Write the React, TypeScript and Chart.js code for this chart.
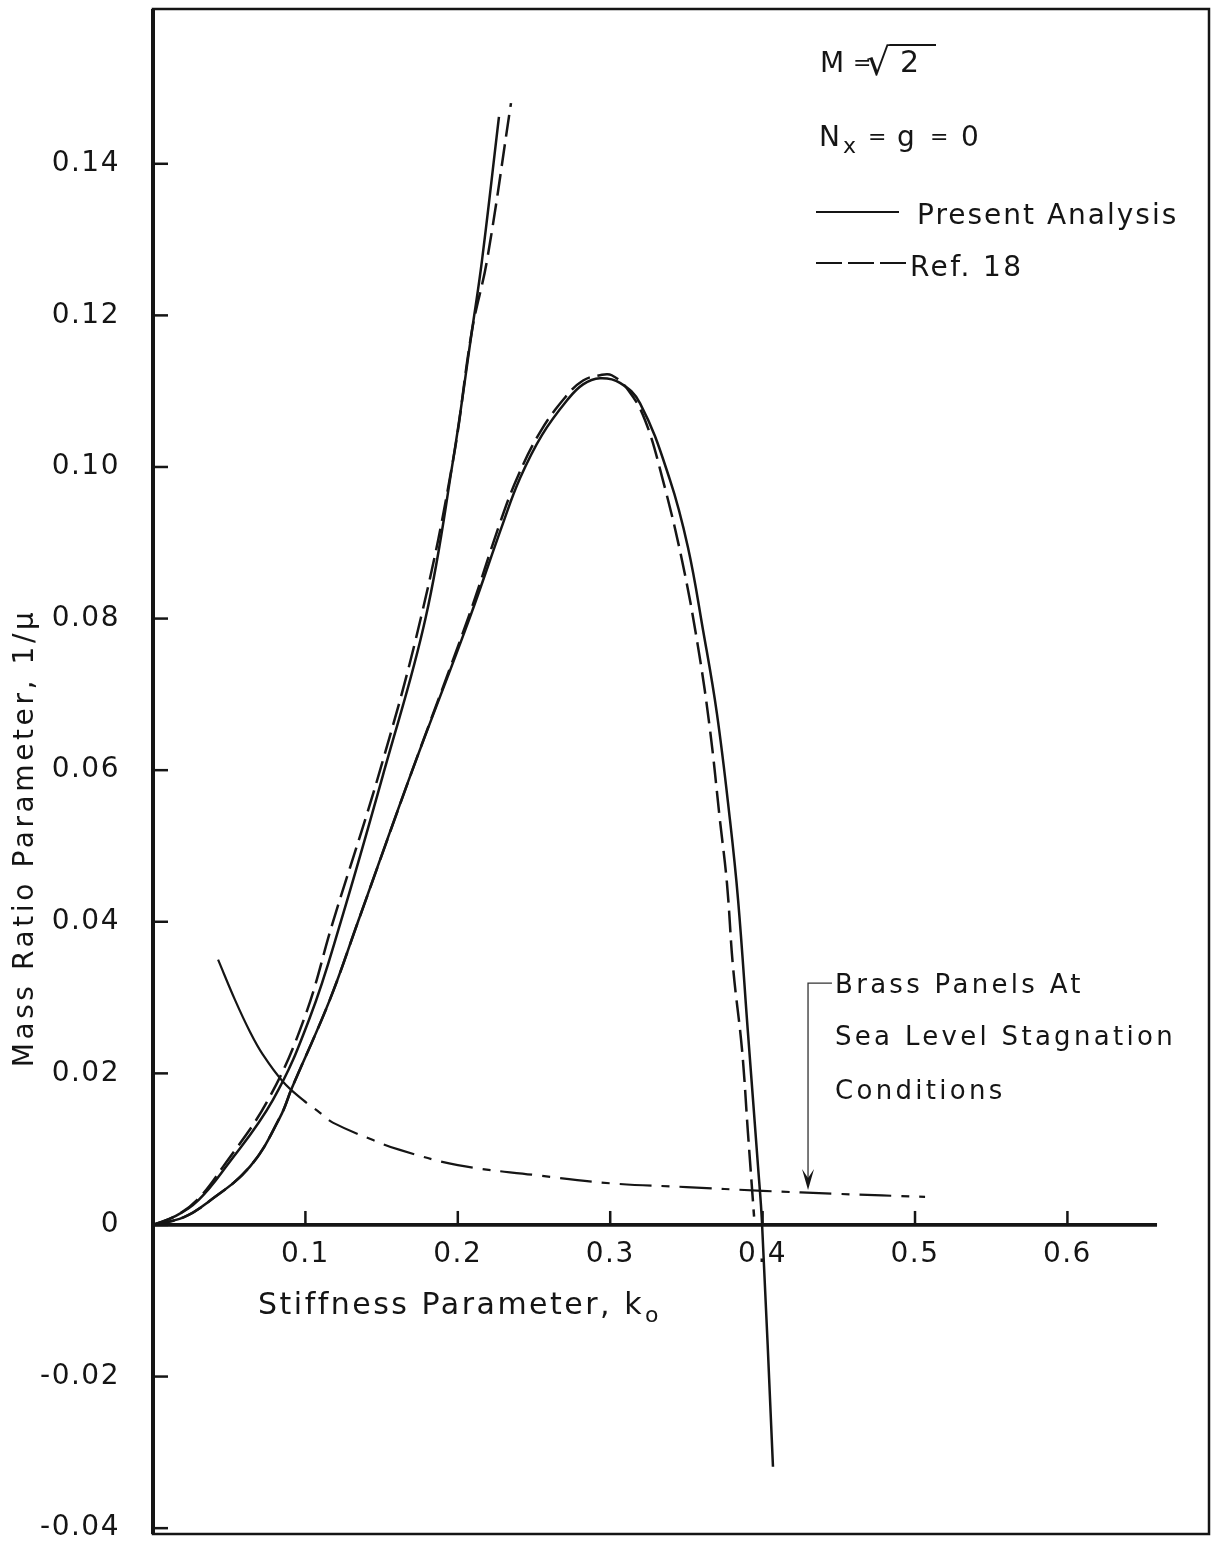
import React, { useEffect, useRef } from "react";
import { Chart, registerables } from "chart.js";

Chart.register(...registerables);

const FONT = "'DejaVu Sans', 'Liberation Sans', sans-serif";
const INK = "#151515";

// Axis ticks
const xTicks = [0.1, 0.2, 0.3, 0.4, 0.5, 0.6];
const xTickLabels = ["0.1", "0.2", "0.3", "0.4", "0.5", "0.6"];
const yTicks = [-0.04, -0.02, 0, 0.02, 0.04, 0.06, 0.08, 0.1, 0.12, 0.14];
const yTickLabels = ["-0.04", "-0.02", "0", "0.02", "0.04", "0.06", "0.08", "0.10", "0.12", "0.14"];
const xMin = 0;
const xMax = 0.6929;
const yMin = -0.04077;
const yMax = 0.16042;
const axisLineEnd = 0.6588;

// Present Analysis — upper (steep) branch
const presentUpperK = [0, 0.015, 0.03, 0.048, 0.0787, 0.103, 0.1232, 0.1518, 0.179, 0.1969, 0.2093, 0.2159, 0.227];
const presentUpperMu = [0, 0.0012, 0.0033, 0.0077, 0.0165, 0.0274, 0.04, 0.06, 0.0802, 0.1009, 0.118, 0.1273, 0.1462];

// Ref. 18 — upper (steep) branch
const ref18UpperK = [0, 0.015, 0.029, 0.046, 0.0755, 0.0995, 0.1181, 0.149, 0.1759, 0.1969, 0.2093, 0.2192, 0.2349];
const ref18UpperMu = [0, 0.0012, 0.0033, 0.0077, 0.0165, 0.0274, 0.04, 0.06, 0.0802, 0.1009, 0.118, 0.1273, 0.148];

// Present Analysis — lower loop
const presentLoopK = [0, 0.02, 0.0354, 0.0636, 0.0833, 0.0912, 0.116, 0.1345, 0.17, 0.208, 0.2297, 0.2408, 0.2552, 0.2717, 0.2822, 0.2933, 0.3064, 0.3196, 0.3392, 0.351, 0.3609, 0.37, 0.3786, 0.3839, 0.3904, 0.397, 0.3996, 0.4068];
const presentLoopMu = [0, 0.001, 0.0029, 0.0077, 0.0142, 0.0181, 0.0297, 0.04, 0.0599, 0.0802, 0.0926, 0.0985, 0.1042, 0.1088, 0.1109, 0.1117, 0.1111, 0.1084, 0.0983, 0.0894, 0.0785, 0.0675, 0.0534, 0.0429, 0.0253, 0.0077, 0.0003, -0.0319];

// Ref. 18 — lower loop
const ref18LoopK = [0, 0.02, 0.0354, 0.0636, 0.0833, 0.0912, 0.116, 0.1345, 0.17, 0.207, 0.228, 0.2395, 0.254, 0.2705, 0.2822, 0.2933, 0.301, 0.312, 0.3228, 0.334, 0.3471, 0.3576, 0.3655, 0.372, 0.3766, 0.3806, 0.3865, 0.3904, 0.3944];
const ref18LoopMu = [0, 0.001, 0.0029, 0.0077, 0.0142, 0.0181, 0.0297, 0.04, 0.0599, 0.0802, 0.0928, 0.0988, 0.1046, 0.1092, 0.1114, 0.1121, 0.1121, 0.1101, 0.1062, 0.0987, 0.0877, 0.0763, 0.0653, 0.0534, 0.0451, 0.034, 0.0231, 0.0121, 0.0011];

// Brass panels at sea level stagnation conditions
const brassK = [0.0427, 0.0538, 0.0636, 0.072, 0.0853, 0.0984, 0.1096, 0.118, 0.1444, 0.162, 0.2, 0.25, 0.3, 0.35, 0.4, 0.45, 0.5066];
const brassMu = [0.035, 0.0297, 0.0255, 0.0225, 0.0189, 0.0165, 0.0148, 0.0135, 0.0112, 0.0099, 0.0079, 0.0066, 0.0055, 0.005, 0.0045, 0.0041, 0.0037];
const brassSolidUntil = 0.085;

// Annotation arrow (data units)
const arrowK = 0.4298;
const arrowTopMu = 0.0319;
const arrowTipMu = 0.0046;
const leaderEndK = 0.4455;

const pts = (k: number[], m: number[]) => k.map((x, i) => ({ x, y: m[i] }));

export default function App() {
  const ref = useRef<HTMLCanvasElement>(null);

  useEffect(() => {
    const canvas = ref.current!;

    const txt = (ctx: CanvasRenderingContext2D, s: string, x: number, y: number, size: number, spacing: number) => {
      ctx.font = `${size}px ${FONT}`;
      (ctx as any).letterSpacing = `${spacing}px`;
      ctx.textAlign = "left";
      ctx.textBaseline = "alphabetic";
      ctx.fillText(s, x, y);
      return ctx.measureText(s);
    };

    const decor = {
      id: "decor",
      beforeDraw(chart: any) {
        (chart.ctx as any).letterSpacing = "1.5px";
      },
      afterDraw(chart: any) {
        const { ctx, chartArea: a, scales } = chart;
        const xs = scales.x;
        const ys = scales.y;
        ctx.save();
        ctx.strokeStyle = INK;
        ctx.fillStyle = INK;
        ctx.lineCap = "butt";

        // frame
        ctx.lineWidth = 2.5;
        ctx.strokeRect(a.left, a.top, a.right - a.left, a.bottom - a.top);
        ctx.lineWidth = 4;
        ctx.beginPath();
        ctx.moveTo(a.left, a.top);
        ctx.lineTo(a.left, a.bottom);
        ctx.stroke();

        // x axis line at zero
        const y0 = ys.getPixelForValue(0);
        ctx.lineWidth = 3.8;
        ctx.beginPath();
        ctx.moveTo(xs.getPixelForValue(0), y0);
        ctx.lineTo(xs.getPixelForValue(axisLineEnd), y0);
        ctx.stroke();

        // tick marks
        ctx.lineWidth = 2.5;
        yTicks.forEach((v) => {
          const py = ys.getPixelForValue(v);
          ctx.beginPath();
          ctx.moveTo(a.left, py);
          ctx.lineTo(a.left + 15, py);
          ctx.stroke();
        });
        xTicks.forEach((v) => {
          const px = xs.getPixelForValue(v);
          ctx.beginPath();
          ctx.moveTo(px, y0);
          ctx.lineTo(px, y0 - 14);
          ctx.stroke();
        });

        // axis titles
        const m1 = txt(ctx, "Stiffness Parameter, k", 258, 1314, 30, 2.5);
        txt(ctx, "o", 258 + m1.width + 1, 1322, 22, 0);

        ctx.save();
        ctx.translate(33, 838);
        ctx.rotate(-Math.PI / 2);
        ctx.font = `28px ${FONT}`;
        (ctx as any).letterSpacing = "3.6px";
        ctx.textAlign = "center";
        ctx.textBaseline = "alphabetic";
        ctx.fillText("Mass Ratio Parameter, 1/\u03bc", 0, 0);
        ctx.restore();

        // legend block
        txt(ctx, "M", 820, 72, 28, 0);
        txt(ctx, "=", 853, 70, 22, 0);
        const rad = txt(ctx, "\u221a", 866, 75, 38, 0);
        const radTop = 75 - rad.actualBoundingBoxAscent;
        const radRight = 866 + rad.actualBoundingBoxRight;
        txt(ctx, "2", 900, 72, 30, 0);
        ctx.lineWidth = 2.2;
        ctx.beginPath();
        ctx.moveTo(radRight - 1.5, radTop + 1);
        ctx.lineTo(936, radTop + 1);
        ctx.stroke();

        txt(ctx, "N", 819, 146, 28, 0);
        txt(ctx, "x", 843, 153, 22, 0);
        txt(ctx, "=", 868, 144, 22, 0);
        txt(ctx, "g", 897, 146, 28, 0);
        txt(ctx, "=", 930, 144, 22, 0);
        txt(ctx, "0", 961, 146, 28, 0);

        ctx.lineWidth = 2;
        ctx.beginPath();
        ctx.moveTo(816, 212);
        ctx.lineTo(899, 212);
        ctx.stroke();
        txt(ctx, "Present Analysis", 917, 224, 28, 2);

        ctx.setLineDash([26, 6]);
        ctx.beginPath();
        ctx.moveTo(816, 263);
        ctx.lineTo(906, 263);
        ctx.stroke();
        ctx.setLineDash([]);
        txt(ctx, "Ref. 18", 910, 276, 28, 2.4);

        // brass annotation
        txt(ctx, "Brass Panels At", 835, 993, 26, 3.3);
        txt(ctx, "Sea Level Stagnation", 835, 1045, 26, 3.3);
        txt(ctx, "Conditions", 835, 1099, 26, 3.3);

        const ax = xs.getPixelForValue(arrowK);
        const aTop = ys.getPixelForValue(arrowTopMu);
        const aTip = ys.getPixelForValue(arrowTipMu);
        ctx.lineWidth = 1.3;
        ctx.strokeStyle = "#333";
        ctx.beginPath();
        ctx.moveTo(xs.getPixelForValue(leaderEndK), aTop);
        ctx.lineTo(ax, aTop);
        ctx.lineTo(ax, aTip - 6);
        ctx.stroke();
        ctx.fillStyle = INK;
        ctx.beginPath();
        ctx.moveTo(ax, aTip);
        ctx.lineTo(ax - 6, aTip - 21);
        ctx.lineTo(ax, aTip - 12);
        ctx.lineTo(ax + 6, aTip - 21);
        ctx.closePath();
        ctx.fill();

        ctx.restore();
      },
    };

    const common = {
      showLine: true,
      borderColor: INK,
      borderWidth: 2.5,
      pointRadius: 0,
      pointHoverRadius: 0,
      fill: false,
      tension: 0.4,
    };

    const noPad = (s: any) => {
      s.paddingTop = 0;
      s.paddingBottom = 0;
      s.paddingLeft = 0;
      s.paddingRight = 0;
    };

    const chart = new Chart(canvas, {
      type: "scatter",
      data: {
        datasets: [
          { ...common, label: "Present Analysis (upper)", data: pts(presentUpperK, presentUpperMu) },
          { ...common, label: "Present Analysis (loop)", data: pts(presentLoopK, presentLoopMu) },
          { ...common, label: "Ref. 18 (upper)", data: pts(ref18UpperK, ref18UpperMu), borderDash: [22, 8] },
          { ...common, label: "Ref. 18 (loop)", data: pts(ref18LoopK, ref18LoopMu), borderDash: [22, 8] },
          {
            ...common,
            label: "Brass Panels",
            borderWidth: 2.2,
            data: pts(brassK, brassMu),
            segment: {
              borderDash: (c: any) => (c.p0.parsed.x >= brassSolidUntil ? [32, 10, 8, 10] : undefined),
            },
          },
        ],
      },
      options: {
        animation: false,
        responsive: false,
        devicePixelRatio: 1,
        layout: { padding: { left: 0, top: 9, right: 12, bottom: 15 } },
        plugins: { legend: { display: false }, tooltip: { enabled: false } },
        scales: {
          x: {
            type: "linear",
            min: xMin,
            max: xMax,
            position: { y: 0 } as any,
            grid: { display: false, drawTicks: false },
            border: { display: false },
            afterBuildTicks: (s: any) => {
              s.ticks = xTicks.map((v) => ({ value: v }));
            },
            afterFit: (s: any) => {
              s.height = 0;
              noPad(s);
            },
            ticks: {
              autoSkip: false,
              maxRotation: 0,
              padding: 13,
              color: INK,
              font: { family: FONT, size: 28 },
              callback: (_v: any, i: number) => xTickLabels[i],
            },
          },
          y: {
            type: "linear",
            min: yMin,
            max: yMax,
            grid: { display: false, drawTicks: false },
            border: { display: false },
            afterBuildTicks: (s: any) => {
              s.ticks = yTicks.map((v) => ({ value: v }));
            },
            afterFit: (s: any) => {
              s.width = 153;
              noPad(s);
            },
            ticks: {
              autoSkip: false,
              padding: 33,
              color: INK,
              font: { family: FONT, size: 28 },
              callback: (_v: any, i: number) => yTickLabels[i],
            },
          },
        },
      } as any,
      plugins: [decor],
    });

    return () => chart.destroy();
  }, []);

  return (
    <canvas
      ref={ref}
      width={1221}
      height={1549}
      style={{ position: "absolute", left: 0, top: 0, display: "block" }}
    />
  );
}
